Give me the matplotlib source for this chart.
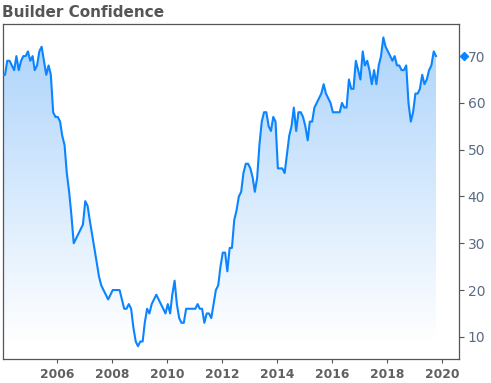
import matplotlib
matplotlib.use('Agg')
import matplotlib.pyplot as plt
import matplotlib.dates as mdates
from matplotlib.colors import LinearSegmentedColormap
import numpy as np
import pandas as pd

# Builder confidence, monthly from Jan 2004 to Oct 2019
confidence = [
    66, 66, 69, 69, 68, 67, 70, 67, 69, 70, 70, 71,   # 2004
    69, 70, 67, 68, 71, 72, 69, 66, 68, 66, 58, 57,   # 2005
    57, 56, 53, 51, 45, 41, 36, 30, 31, 32, 33, 34,   # 2006
    39, 38, 35, 32, 29, 26, 23, 21, 20, 19, 18, 19,   # 2007
    20, 20, 20, 20, 18, 16, 16, 17, 16, 12, 9, 8,     # 2008
    9, 9, 13, 16, 15, 17, 18, 19, 18, 17, 16, 15,     # 2009
    17, 15, 19, 22, 17, 14, 13, 13, 16, 16, 16, 16,   # 2010
    16, 17, 16, 16, 13, 15, 15, 14, 17, 20, 21, 25,   # 2011
    28, 28, 24, 29, 29, 35, 37, 40, 41, 45, 47, 47,   # 2012
    46, 44, 41, 44, 51, 56, 58, 58, 55, 54, 57, 56,   # 2013
    46, 46, 46, 45, 49, 53, 55, 59, 54, 58, 58, 57,   # 2014
    55, 52, 56, 56, 59, 60, 61, 62, 64, 62, 61, 60,   # 2015
    58, 58, 58, 58, 60, 59, 59, 65, 63, 63, 69, 67,   # 2016
    65, 71, 68, 69, 67, 64, 67, 64, 68, 70, 74, 72,   # 2017
    71, 70, 69, 70, 68, 68, 67, 67, 68, 60, 56, 58,   # 2018
    62, 62, 63, 66, 64, 65, 67, 68, 71, 70,           # 2019
]
dates = pd.date_range('2004-01-01', periods=len(confidence), freq='MS') + pd.Timedelta(days=14)
y_ticks = [10, 20, 30, 40, 50, 60, 70]
last_value = confidence[-1]

line_color = '#0a84ff'
ymin, ymax = 5.2, 76.8

fig = plt.figure(figsize=(4.91, 3.83), dpi=100)
ax = fig.add_axes([0.0055, 0.0619, 0.93, 0.8747])

ax.plot(dates, confidence, color=line_color, lw=1.5, zorder=3)

# gradient fill under the line, fading to white near the bottom
fill = ax.fill_between(dates, confidence, ymin, color='none', lw=0)
x0, x1 = mdates.date2num(dates[0]), mdates.date2num(dates[-1])
cmap = LinearSegmentedColormap.from_list('fade', ['#ffffff', '#aad2fb'])
grad = np.linspace(0, 1, 256).reshape(-1, 1)
img = ax.imshow(grad, cmap=cmap, aspect='auto', origin='lower',
                extent=[x0, x1, 9, ymax], zorder=1)
img.set_clip_path(fill.get_paths()[0], transform=ax.transData)

ax.set_xlim(dates[0], pd.Timestamp('2020-08-20'))
ax.set_ylim(ymin, ymax)

ax.xaxis.set_major_locator(mdates.YearLocator(2))
ax.xaxis.set_major_formatter(mdates.DateFormatter('%Y'))
ax.yaxis.tick_right()
ax.set_yticks(y_ticks)

ax.tick_params(axis='x', length=3, width=0.8, color='#555555', pad=3.3,
               labelsize=8.8, labelcolor='#606060')
for lab in ax.get_xticklabels():
    lab.set_fontweight('bold')
ax.tick_params(axis='y', length=3.4, width=0.8, color='#555555', pad=2.7,
               labelsize=10, labelcolor='#5a6b86')

for sp in ax.spines.values():
    sp.set_color('#555555')
    sp.set_linewidth(0.9)

# last value marker on the right axis
ax.plot([1.0103], [last_value], marker='D', markersize=4.3, color=line_color,
        transform=ax.get_yaxis_transform(), clip_on=False, zorder=5)

fig.text(0.004, 0.968, 'Builder Confidence', fontsize=11, fontweight='bold',
         color='#555555', va='center', ha='left')

fig.savefig('out.png', dpi=100)
